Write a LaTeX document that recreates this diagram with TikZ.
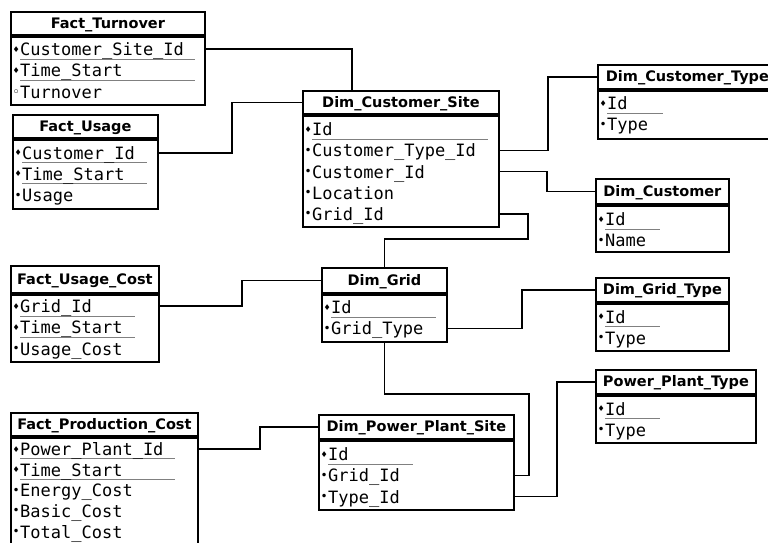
\documentclass[tikz,border=0pt]{standalone}
\usepackage{fontspec}
\setmainfont{DejaVu Sans}
\setmonofont{DejaVu Sans Mono}
\newfontfamily\markfont{DejaVu Sans}
\usepackage{tikz}
\usetikzlibrary{positioning,calc}

% row markers: key field (underlined), attribute, measure
\newcommand{\kmark}{\makebox[8pt][c]{\raisebox{3.5pt}{\markfont\fontsize{8}{8}\selectfont ♦}}}
\newcommand{\bmark}{\makebox[8pt][c]{\raisebox{2.5pt}{\markfont\fontsize{12}{12}\selectfont •}}}
\newcommand{\omark}{\makebox[8pt][c]{\raisebox{2pt}{\markfont\fontsize{13}{13}\selectfont ◦}}}
\newcommand{\fk}[2]{\kmark\rlap{\color{black!50}\rule[-3.6pt]{#1}{0.8pt}}#2}
\newcommand{\fa}[1]{\bmark#1}
\newcommand{\fm}[1]{\omark#1}

\begin{document}
\begin{tikzpicture}[
    x=1pt, y=-1pt,
    tblhead/.style={
        draw=black,
        line width=1.8pt,
        anchor=north west,
        inner sep=0pt,
        text height=12pt,
        text depth=2pt,
        font=\fontsize{14.5}{16}\selectfont\bfseries
    },
    tblbody/.style={
        draw=black,
        line width=1.8pt,
        anchor=north west,
        inner sep=0pt
    },
    field/.style={
        anchor=north west,
        inner sep=0pt,
        minimum height=20.7pt,
        text height=16pt,
        text depth=3pt,
        font=\fontsize{17}{20}\selectfont\ttfamily
    },
    relation/.style={line width=1.8pt}
]
\useasboundingbox (0,0) rectangle (768,543);
\clip (0,0) rectangle (768,543);

% =========================================
% Fact tables (left column)
% =========================================
\node[tblhead, minimum width=194pt, minimum height=23pt] (turnover) at (10,11) {Fact\_Turnover};
\node[tblbody, minimum width=194pt, minimum height=68pt] (turnover-body) at (turnover.south west) {};
\node[field] (turnover-1) at ($(turnover-body.north west)+(2,3)$) {\fk{175pt}{Customer\_Site\_Id}};
\node[field] (turnover-2) at (turnover-1.south west) {\fk{175pt}{Time\_Start}};
\node[field] (turnover-3) at (turnover-2.south west) {\fm{Turnover}};

\node[tblhead, minimum width=145pt, minimum height=23pt] (usage) at (12,114) {Fact\_Usage};
\node[tblbody, minimum width=145pt, minimum height=69pt] (usage-body) at (usage.south west) {};
\node[field] (usage-1) at ($(usage-body.north west)+(2,3.5)$) {\fk{125pt}{Customer\_Id}};
\node[field] (usage-2) at (usage-1.south west) {\fk{125pt}{Time\_Start}};
\node[field] (usage-3) at (usage-2.south west) {\fa{Usage}};

\node[tblhead, minimum width=148pt, minimum height=27pt] (usagecost) at (10,265) {Fact\_Usage\_Cost};
\node[tblbody, minimum width=148pt, minimum height=67pt] (usagecost-body) at (usagecost.south west) {};
\node[field] (usagecost-1) at ($(usagecost-body.north west)+(2,2)$) {\fk{115pt}{Grid\_Id}};
\node[field] (usagecost-2) at (usagecost-1.south west) {\fk{115pt}{Time\_Start}};
\node[field] (usagecost-3) at (usagecost-2.south west) {\fa{Usage\_Cost}};

% rows packed a little tighter: the table runs off the bottom edge
\node[tblhead, minimum width=187pt, minimum height=23pt] (prodcost) at (10,412) {Fact\_Production\_Cost};
\node[tblbody, minimum width=187pt, minimum height=117pt] (prodcost-body) at (prodcost.south west) {};
\node[field, minimum height=20.2pt] (prodcost-1) at ($(prodcost-body.north west)+(2,2)$) {\fk{155pt}{Power\_Plant\_Id}};
\node[field, minimum height=20.2pt] (prodcost-2) at (prodcost-1.south west) {\fk{155pt}{Time\_Start}};
\node[field, minimum height=20.2pt] (prodcost-3) at (prodcost-2.south west) {\fa{Energy\_Cost}};
\node[field, minimum height=20.2pt] (prodcost-4) at (prodcost-3.south west) {\fa{Basic\_Cost}};
\node[field, minimum height=20.2pt] (prodcost-5) at (prodcost-4.south west) {\fa{Total\_Cost}};

% =========================================
% Dimension tables (middle column)
% =========================================
\node[tblhead, minimum width=196pt, minimum height=23pt] (custsite) at (302,90) {Dim\_Customer\_Site};
\node[tblbody, minimum width=196pt, minimum height=111pt] (custsite-body) at (custsite.south west) {};
\node[field] (custsite-1) at ($(custsite-body.north west)+(2,4)$) {\fk{176pt}{Id}};
\node[field] (custsite-2) at (custsite-1.south west) {\fa{Customer\_Type\_Id}};
\node[field] (custsite-3) at (custsite-2.south west) {\fa{Customer\_Id}};
\node[field] (custsite-4) at (custsite-3.south west) {\fa{Location}};
\node[field] (custsite-5) at (custsite-4.south west) {\fa{Grid\_Id}};

\node[tblhead, minimum width=125pt, minimum height=25pt] (grid) at (321,267) {Dim\_Grid};
\node[tblbody, minimum width=125pt, minimum height=47pt] (grid-body) at (grid.south west) {};
\node[field] (grid-1) at ($(grid-body.north west)+(2,3)$) {\fk{105pt}{Id}};
\node[field] (grid-2) at (grid-1.south west) {\fa{Grid\_Type}};

\node[tblhead, minimum width=195pt, minimum height=24pt] (plantsite) at (318,414) {Dim\_Power\_Plant\_Site};
\node[tblbody, minimum width=195pt, minimum height=69pt] (plantsite-body) at (plantsite.south west) {};
\node[field] (plantsite-1) at ($(plantsite-body.north west)+(2,4)$) {\fk{85pt}{Id}};
\node[field] (plantsite-2) at (plantsite-1.south west) {\fa{Grid\_Id}};
\node[field] (plantsite-3) at (plantsite-2.south west) {\fa{Type\_Id}};

% =========================================
% Lookup tables (right column)
% =========================================
\node[tblhead, minimum width=179pt, minimum height=24pt] (custtype) at (597,64) {Dim\_Customer\_Type};
\node[tblbody, minimum width=179pt, minimum height=48pt] (custtype-body) at (custtype.south west) {};
\node[field] (custtype-1) at ($(custtype-body.north west)+(2,3)$) {\fk{56pt}{Id}};
\node[field] (custtype-2) at (custtype-1.south west) {\fa{Type}};

\node[tblhead, minimum width=133pt, minimum height=25pt] (customer) at (595,178) {Dim\_Customer};
\node[tblbody, minimum width=133pt, minimum height=46pt] (customer-body) at (customer.south west) {};
\node[field] (customer-1) at ($(customer-body.north west)+(2,4)$) {\fk{55pt}{Id}};
\node[field] (customer-2) at (customer-1.south west) {\fa{Name}};

\node[tblhead, minimum width=133pt, minimum height=24pt] (gridtype) at (595,277) {Dim\_Grid\_Type};
\node[tblbody, minimum width=133pt, minimum height=47pt] (gridtype-body) at (gridtype.south west) {};
\node[field] (gridtype-1) at ($(gridtype-body.north west)+(2,3.5)$) {\fk{55pt}{Id}};
\node[field] (gridtype-2) at (gridtype-1.south west) {\fa{Type}};

\node[tblhead, minimum width=160pt, minimum height=24pt] (plantype) at (595,369) {Power\_Plant\_Type};
\node[tblbody, minimum width=160pt, minimum height=47pt] (plantype-body) at (plantype.south west) {};
\node[field] (plantype-1) at ($(plantype-body.north west)+(2,3.5)$) {\fk{55pt}{Id}};
\node[field] (plantype-2) at (plantype-1.south west) {\fa{Type}};

% =========================================
% Relations
% =========================================
\draw[relation] (turnover-body.east |- turnover-1) -| ($(custsite.north west)+(50,0)$);
\draw[relation] (usage-body.east |- usage-1) -- ++(73,0) |- (custsite.west);
\draw[relation] (custsite-body.east |- custsite-2) -- ++(48,0) |- (custtype.west);
\draw[relation] (custsite-body.east |- custsite-3) -- ++(47,0) |- (customer.west);
\draw[relation] (custsite-body.east |- custsite-5) -- ++(28,0) -- ++(0,25) -| (grid.north);
\draw[relation] (usagecost-body.east |- usagecost-1) -- ++(82,0) |- (grid.west);
\draw[relation] (grid-body.east |- grid-2) -- ++(74,0) |- (gridtype.west);
\draw[relation] (grid-body.south) -- ++(0,51) -| ($(plantsite-body.east |- plantsite-2)+(14,0)$)
    -- (plantsite-body.east |- plantsite-2);
\draw[relation] (plantsite-body.east |- plantsite-3) -- ++(42,0) |- (plantype.west);
\draw[relation] (prodcost-body.east |- prodcost-1) -- ++(61,0) |- (plantsite.west);

\end{tikzpicture}
\end{document}
